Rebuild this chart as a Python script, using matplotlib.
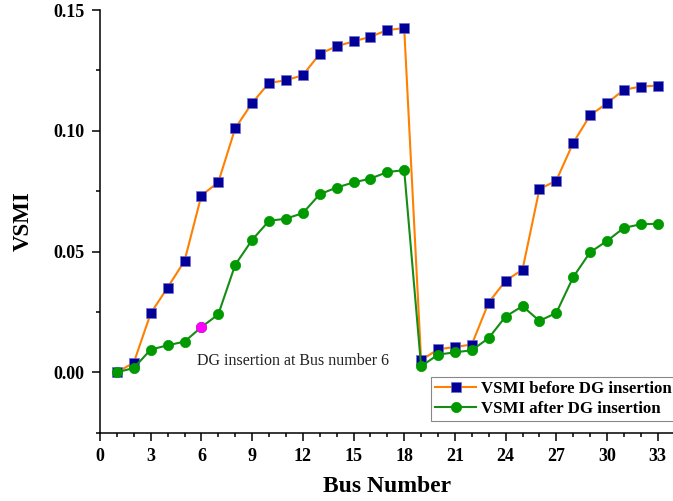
import numpy as np
import matplotlib
matplotlib.use('Agg')
import matplotlib.pyplot as plt
from matplotlib.ticker import MultipleLocator

# bus index (33-bus feeder)
bus = list(range(1, 34))

vsmi_before = [0.0000, 0.0040, 0.0244, 0.0351, 0.0461, 0.0732, 0.0787, 0.1010,
               0.1115, 0.1198, 0.1209, 0.1230, 0.1318, 0.1350, 0.1370, 0.1389,
               0.1417, 0.1425, 0.0050, 0.0095, 0.0105, 0.0115, 0.0289, 0.0379,
               0.0425, 0.0758, 0.0794, 0.0950, 0.1064, 0.1114, 0.1170, 0.1183,
               0.1187]

vsmi_after = [0.0000, 0.0018, 0.0094, 0.0112, 0.0127, 0.0187, 0.0240, 0.0445,
              0.0548, 0.0627, 0.0636, 0.0659, 0.0737, 0.0765, 0.0786, 0.0802,
              0.0829, 0.0837, 0.0025, 0.0073, 0.0083, 0.0091, 0.0142, 0.0231,
              0.0274, 0.0213, 0.0246, 0.0394, 0.0497, 0.0544, 0.0598, 0.0613,
              0.0615]

dg_bus = 6
x_ticks = list(range(0, 34, 3))
y_ticks = [0.00, 0.05, 0.10, 0.15]

plt.rcParams['font.family'] = ['Liberation Serif', 'DejaVu Serif']
plt.rcParams['axes.linewidth'] = 1.1

fig = plt.figure(figsize=(6.73, 5.01), dpi=100)
ax = fig.add_axes([100 / 673, 68.3 / 501, 574.6 / 673, 422.7 / 501])

ax.plot(bus, vsmi_before, color='#FF8000', lw=1.5, marker='s', ms=7.2,
        mfc='#000099', mec='#7070d0', mew=0.5,
        label='VSMI before DG insertion', zorder=3)
ax.plot(bus, vsmi_after, color='#168c16', lw=1.5, marker='o', ms=7.4,
        mfc='#009900', mec='#009900', mew=0.5,
        label='VSMI after DG insertion', zorder=4)
# highlight the bus where the DG unit is placed
ax.plot([dg_bus], [vsmi_after[dg_bus - 1]], linestyle='none', marker='o', ms=7.4,
        mfc='#FF00FF', mec='#FF00FF', mew=0.5, zorder=5)

ax.text(5.76, 0.0029, 'DG insertion at Bus number 6', fontsize=11.5,
        color='#222222', ha='left', va='baseline')

ax.set_xlim(0, 34)
ax.set_ylim(-0.025, 0.15)
ax.set_xticks(x_ticks)
ax.set_yticks(y_ticks)
ax.set_yticklabels(['%.2f' % v for v in y_ticks])
ax.xaxis.set_minor_locator(MultipleLocator(1))
ax.yaxis.set_minor_locator(MultipleLocator(0.025))

ax.spines['right'].set_visible(False)
ax.spines['top'].set_visible(False)
ax.tick_params(which='major', direction='out', length=6, width=1.1,
               labelsize=13, pad=5)
ax.tick_params(which='minor', direction='out', length=3, width=1.1)
for lbl in ax.get_xticklabels() + ax.get_yticklabels():
    lbl.set_fontweight('bold')

ax.set_xlabel('Bus Number', fontsize=17, fontweight='bold', labelpad=8)
ax.set_ylabel('VSMI', fontsize=16.5, fontweight='bold', labelpad=14)

leg = ax.legend(loc='upper left', bbox_to_anchor=(431 / 673, 1 - 376.7 / 501),
                bbox_transform=fig.transFigure, fancybox=False, frameon=True,
                edgecolor='#888888', framealpha=1, borderpad=0.25,
                labelspacing=0.25, handlelength=2.45, handletextpad=0.3,
                borderaxespad=0, prop={'weight': 'bold', 'size': 12.1})
leg.get_frame().set_linewidth(0.8)

fig.savefig('out.png', dpi=100)
